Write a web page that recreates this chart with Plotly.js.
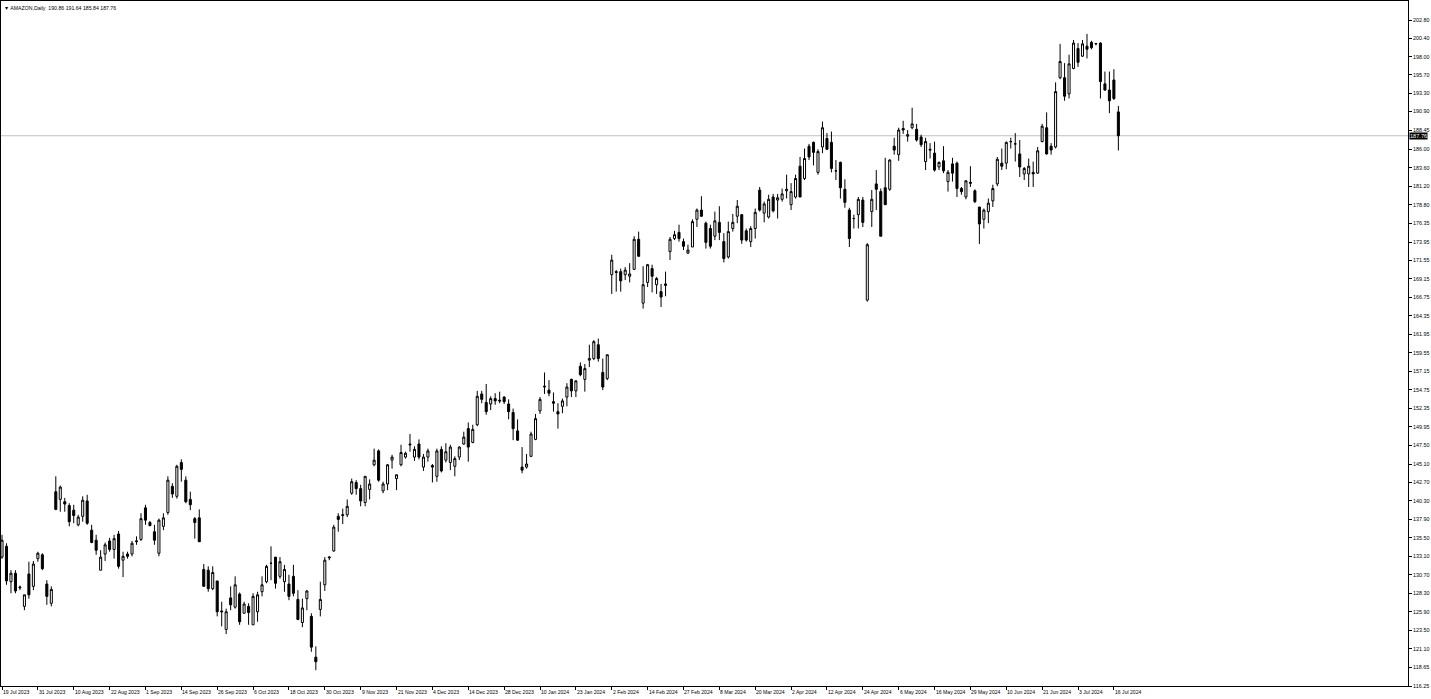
<!DOCTYPE html>
<html><head><meta charset="utf-8">
<script src="https://cdn.plot.ly/plotly-3.0.1.min.js"></script>
<style>html,body{margin:0;padding:0;background:#fff}#chart{width:1431px;height:699px}</style>
</head><body><div id="chart"></div>
<script>
const symbolName = "AMAZON,Daily";
const openP = [133.0,134.4,129.8,130.9,129.0,126.6,130.8,129.2,132.8,133.3,129.5,127.0,141.5,140.5,140.2,139.7,139.1,137.2,138.3,140.3,
136.5,135.2,131.3,133.4,135.1,134.0,136.0,132.6,133.4,133.4,135.0,135.3,139.4,137.5,136.3,133.5,137.0,138.8,142.2,140.9,
145.3,143.0,140.5,138.0,138.1,131.4,131.3,128.9,129.9,126.0,123.6,127.7,126.5,128.2,125.7,126.6,124.2,125.9,128.5,129.8,
132.2,133.0,130.5,129.8,129.5,130.5,127.5,124.5,127.6,125.3,120.0,126.2,129.4,132.9,133.8,138.3,138.4,138.5,141.3,142.7,
141.9,140.1,141.8,145.0,146.8,141.6,142.5,145.6,143.2,145.0,146.0,147.7,146.0,147.7,144.7,146.0,144.9,143.5,147.0,145.6,
145.3,144.8,146.0,147.7,149.7,147.9,150.2,154.2,153.1,152.9,153.6,153.4,153.8,152.9,151.8,149.4,144.7,144.7,146.1,148.3,
152.0,155.1,154.7,153.2,151.9,152.6,153.8,156.1,154.6,157.8,156.1,158.6,158.8,160.6,157.0,156.2,169.7,170.1,170.1,169.7,
169.5,170.4,174.3,166.0,168.7,170.5,168.4,167.5,168.3,172.7,174.4,175.2,174.0,172.5,173.3,176.9,178.1,176.4,175.7,174.7,
176.5,174.0,172.0,175.7,177.3,177.5,175.4,174.0,175.7,180.7,177.7,177.2,179.8,179.4,179.5,180.6,178.8,179.8,183.8,182.2,
186.4,186.9,183.0,186.3,187.4,186.9,183.2,184.3,180.8,178.1,177.0,177.5,179.4,166.4,177.9,181.5,180.5,181.0,180.8,186.4,
185.3,188.7,187.7,188.8,188.6,187.6,184.4,186.0,185.5,183.7,184.5,181.8,184.1,184.2,180.9,179.8,181.7,180.6,178.5,176.9,
177.9,179.3,181.5,184.2,184.2,187.0,186.7,185.4,182.8,182.8,183.0,182.9,187.0,188.8,186.4,186.3,195.3,195.3,193.2,196.5,
199.1,198.1,199.4,199.9,199.7,199.8,194.5,193.7,195.0,190.86];
const highP = [135.9,134.8,131.3,131.3,129.3,128.1,132.4,132.5,133.7,133.5,130.0,129.2,143.5,142.3,140.7,140.0,139.8,138.5,140.9,141.1,
137.2,135.9,133.9,134.9,135.5,135.9,136.4,133.7,133.7,135.1,135.7,138.7,139.8,137.7,137.2,138.0,138.7,143.5,142.6,145.0,
145.7,143.5,141.5,138.2,139.2,132.1,131.8,131.8,129.9,127.2,126.3,129.2,130.5,128.4,127.2,127.0,128.3,128.5,130.5,132.0,
134.4,133.0,133.0,132.0,130.7,132.0,128.7,127.6,128.7,125.7,121.4,129.8,133.0,133.1,137.2,138.7,139.3,140.5,143.2,143.0,
142.4,143.5,143.1,147.1,147.0,142.8,145.1,146.3,143.7,147.6,146.7,149.0,147.4,148.3,146.4,147.1,145.1,147.1,147.4,147.8,
147.6,146.1,147.4,149.3,150.5,150.2,154.6,154.6,155.5,153.9,154.3,154.5,153.9,153.5,152.3,150.9,147.3,146.4,149.3,151.6,
153.8,157.0,156.0,154.4,153.0,153.6,155.6,156.2,156.0,158.3,158.1,160.6,161.2,161.4,158.8,159.3,172.3,170.3,170.5,170.7,
171.2,174.7,175.3,170.8,171.1,171.0,169.4,168.5,170.1,174.6,175.4,176.2,174.4,173.6,176.9,178.3,179.9,176.6,176.2,177.9,
178.6,175.1,176.6,177.6,179.4,177.6,175.7,176.0,178.3,181.1,179.2,180.1,180.2,180.2,180.9,182.7,181.6,182.7,185.0,186.1,
186.7,187.0,186.0,189.6,188.1,188.3,184.6,184.4,182.1,178.4,177.5,179.8,179.8,173.8,180.7,183.3,180.9,184.9,184.7,187.5,
188.8,189.7,188.5,191.4,189.3,187.9,187.5,186.8,187.0,184.4,186.4,183.3,184.9,184.4,181.1,182.0,183.8,180.8,178.5,178.3,
179.6,181.4,185.0,186.1,187.0,187.5,188.1,187.2,183.7,184.8,184.4,186.3,189.3,190.8,186.8,194.7,199.7,197.2,198.3,200.2,
199.8,200.2,201.0,200.1,199.8,199.9,196.1,196.1,196.4,191.64];
const lowP = [132.8,129.4,128.3,128.3,128.7,126.1,127.6,128.7,132.4,131.3,126.8,126.6,139.1,138.9,138.9,137.0,137.4,137.0,137.6,137.2,
134.8,133.3,131.3,132.5,133.7,132.8,131.5,130.4,132.8,133.1,134.6,135.1,137.2,137.0,134.6,133.1,136.5,138.5,140.7,140.6,
142.8,140.0,139.1,135.4,135.0,129.2,128.5,128.7,125.3,124.0,123.0,126.1,126.3,124.2,125.7,124.2,124.2,124.6,127.9,129.6,
130.0,128.9,130.2,128.5,127.4,127.9,124.8,123.9,126.1,120.7,118.3,125.3,128.6,132.6,133.7,136.3,137.3,138.2,141.1,141.1,
139.6,139.6,140.5,144.8,142.8,141.3,141.7,144.5,141.7,144.8,145.8,146.7,145.5,145.7,144.2,145.4,142.7,142.8,144.0,145.3,
144.3,143.5,145.6,147.6,145.4,147.8,150.0,153.0,151.5,152.1,152.8,153.0,152.9,150.9,148.2,148.1,143.9,144.5,146.0,148.2,
151.6,154.2,153.9,151.9,149.7,151.7,152.6,153.8,153.8,156.5,154.5,157.7,158.6,158.4,154.7,156.0,167.2,167.5,167.5,169.0,
168.7,170.3,172.0,165.3,168.1,167.4,167.2,165.5,166.9,171.6,174.2,174.0,172.9,172.4,173.3,175.9,177.2,173.1,173.1,174.2,
174.2,171.3,171.8,175.3,176.4,173.7,174.0,173.3,174.4,177.9,176.5,177.0,177.8,177.0,179.2,179.6,178.1,179.6,179.8,182.0,
184.6,183.9,182.7,185.5,185.9,183.0,182.0,179.6,178.4,173.3,175.7,175.7,175.9,166.2,175.9,178.1,174.7,178.8,180.6,185.3,
184.5,188.0,187.0,188.6,187.0,186.3,183.3,184.8,183.1,183.3,182.9,180.5,181.8,179.8,180.1,179.5,181.1,179.0,173.7,175.7,
176.4,178.5,181.2,183.3,183.4,186.1,184.4,182.4,182.0,181.1,181.1,182.8,186.9,185.3,185.3,186.1,195.1,192.3,192.6,196.4,
196.7,198.0,197.8,199.0,199.5,192.6,193.6,190.7,192.4,185.84];
const closeP = [135.2,129.9,130.9,128.6,129.1,128.1,128.1,132.1,133.5,131.5,127.9,128.8,139.2,142.1,139.9,137.6,138.4,138.2,140.4,137.4,
134.9,133.9,133.0,134.6,134.0,135.4,131.8,133.1,133.1,134.8,135.1,138.0,137.8,137.1,135.2,137.8,138.1,143.0,141.2,144.8,
144.4,140.2,139.8,137.5,135.0,129.2,128.9,131.0,125.9,125.9,125.9,126.8,129.4,124.6,126.9,125.8,127.9,128.1,129.4,131.8,
132.2,129.6,132.4,131.4,127.9,128.3,124.9,126.4,128.6,121.3,119.4,127.5,132.6,133.0,136.9,137.9,138.5,139.6,142.8,141.9,
140.3,143.5,142.5,145.6,143.0,142.5,145.0,146.0,143.7,146.6,146.5,147.6,147.0,146.0,146.0,146.8,144.7,146.8,144.2,146.7,
147.3,145.8,147.3,148.6,147.3,149.6,153.9,153.5,151.9,153.6,153.3,153.3,153.2,151.9,149.7,148.2,144.3,145.1,149.0,151.0,
153.5,155.2,154.3,153.0,151.6,153.3,155.1,154.6,155.9,156.7,157.5,158.8,161.0,158.8,155.1,159.3,171.6,170.0,168.9,170.3,
169.8,174.3,172.1,168.4,171.0,169.5,169.2,166.8,168.5,174.3,174.9,174.4,173.4,172.9,176.6,178.1,177.3,173.9,173.4,176.7,
175.2,171.8,175.3,176.5,178.6,174.2,174.2,175.7,177.8,178.1,178.9,179.5,178.0,179.7,180.2,180.8,180.5,182.2,179.8,184.8,
185.0,185.6,185.7,188.8,186.0,183.5,183.2,181.0,179.1,174.4,177.0,179.5,176.5,173.6,179.5,180.8,174.7,178.8,184.6,185.9,
188.5,188.5,187.9,189.3,187.2,186.6,187.0,185.9,183.3,184.3,183.2,183.0,182.9,180.9,180.5,181.9,181.6,179.2,176.3,178.1,
179.0,180.9,184.7,183.8,186.9,187.0,186.7,183.7,183.5,183.8,182.8,185.8,189.0,185.4,185.9,193.5,197.4,192.9,197.1,199.8,
197.3,199.7,199.0,199.2,199.75,194.8,193.7,192.3,192.6,187.76];
const dateLabels = ["19 Jul 2023","31 Jul 2023","10 Aug 2023","22 Aug 2023","1 Sep 2023","14 Sep 2023","26 Sep 2023","6 Oct 2023",
"18 Oct 2023","30 Oct 2023","9 Nov 2023","21 Nov 2023","4 Dec 2023","14 Dec 2023","28 Dec 2023","10 Jan 2024","23 Jan 2024",
"2 Feb 2024","14 Feb 2024","27 Feb 2024","8 Mar 2024","20 Mar 2024","2 Apr 2024","12 Apr 2024","24 Apr 2024","6 May 2024",
"16 May 2024","29 May 2024","10 Jun 2024","21 Jun 2024","3 Jul 2024","16 Jul 2024"];
const priceLabels = ["202.80","200.40","198.00","195.70","193.30","190.90","188.45","186.00","183.60","181.20","178.80","176.35",
"173.95","171.55","169.15","166.75","164.35","161.95","159.55","157.15","154.75","152.35","149.95","147.50","145.10","142.70",
"140.30","137.90","135.50","133.10","130.70","128.30","125.90","123.50","121.10","118.65","116.25"];
const barsPerLabel = 8;

const n = closeP.length;
const idx = Array.from({length:n}, (_, i) => i);
const labelIdx = dateLabels.map((_, i) => i * barsPerLabel);
const last = n - 1;
const fmt = v => v.toFixed(2);
const FONT = "Liberation Sans, Arial, sans-serif";

const trace = {
  type: 'candlestick', x: idx, open: openP, high: highP, low: lowP, close: closeP,
  increasing: {line: {color: '#000', width: 1}, fillcolor: '#fff'},
  decreasing: {line: {color: '#000', width: 1}, fillcolor: '#000'},
  whiskerwidth: 0, hoverinfo: 'x+y', showlegend: false
};

const annotations = dateLabels.map((t, i) => ({
  x: labelIdx[i], xref: 'x', y: 0, yref: 'paper', yanchor: 'top', xanchor: 'left',
  xshift: -1, yshift: -1, text: t, showarrow: false, font: {family: FONT, size: 5.1, color: '#000'}
}));
annotations.push({
  x: 1, xref: 'paper', y: closeP[last], yref: 'y', xanchor: 'left', yanchor: 'middle', xshift: 1,
  text: fmt(closeP[last]), showarrow: false, bgcolor: '#000', borderpad: 0,
  font: {family: FONT, size: 5.6, color: '#fff'}
});
annotations.push({
  x: 0, xref: 'paper', y: 1, yref: 'paper', xanchor: 'left', yanchor: 'top', xshift: 1, yshift: -2,
  text: '▼ ' + symbolName + '  ' + [openP[last], highP[last], lowP[last], closeP[last]].map(fmt).join(' '),
  showarrow: false, font: {family: FONT, size: 5.2, color: '#000'}
});

const layout = {
  width: 1431, height: 699,
  margin: {l: 1, r: 23, t: 1, b: 13, pad: 0},
  paper_bgcolor: '#fff', plot_bgcolor: '#fff',
  boxgap: 0.35,
  xaxis: {
    range: [-0.223, 313.6], showgrid: false, zeroline: false,
    showline: true, linecolor: '#000', linewidth: 1, mirror: true,
    tickmode: 'array', tickvals: labelIdx, showticklabels: false,
    ticks: 'outside', ticklen: 3, tickcolor: '#000', tickwidth: 1,
    rangeslider: {visible: false}, fixedrange: true
  },
  yaxis: {
    side: 'right', range: [116.25, 205.27], showgrid: false, zeroline: false,
    showline: true, linecolor: '#000', linewidth: 1, mirror: true,
    tickmode: 'array', tickvals: priceLabels.map(Number), ticktext: priceLabels,
    ticks: 'outside', ticklen: 3, tickcolor: '#000', tickwidth: 1,
    tickfont: {family: FONT, size: 5.4, color: '#000'}, fixedrange: true
  },
  shapes: [{
    type: 'line', xref: 'paper', x0: 0, x1: 1, yref: 'y', y0: closeP[last], y1: closeP[last],
    line: {color: '#c0c0c0', width: 1}, layer: 'below'
  }],
  annotations: annotations,
  showlegend: false
};

Plotly.newPlot('chart', [trace], layout, {displayModeBar: false, staticPlot: true});
</script>
</body></html>
